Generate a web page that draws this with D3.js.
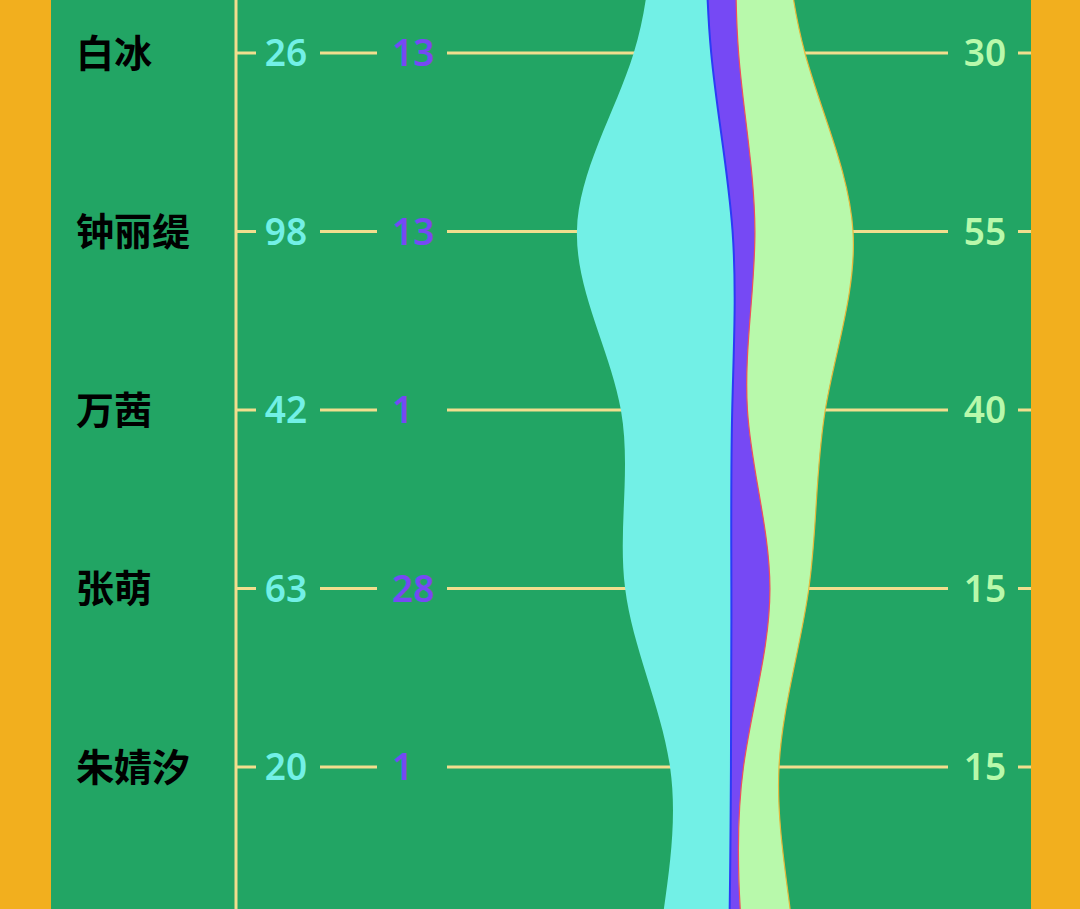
<!DOCTYPE html>
<html>
<head>
<meta charset="utf-8">
<script src="https://cdn.jsdelivr.net/npm/d3@7"></script>
<style>
  html, body { margin: 0; padding: 0; background: #F2AF1E; }
  svg { display: block; }
</style>
</head>
<body>
<svg id="chart" width="1080" height="909"></svg>
<script>
// ---- data ----
const categories = ["白冰", "钟丽缇", "万茜", "张萌", "朱婧汐"];
const seriesA = [26, 98, 42, 63, 20];   // cyan (left)
const seriesB = [13, 13, 1, 28, 1];     // purple (middle)
const seriesC = [30, 55, 40, 15, 15];   // light green (right)
// rows that continue past the top / bottom of the visible window (shape only, estimated)
const aboveA = [25, 27], aboveB = [15, 16], aboveC = [20, 21];
const belowA = [37, 40], belowB = [5, 20], belowC = [30, 17];

// ---- layout ----
const W = 1080, H = 909;
const panelX0 = 51, panelX1 = 1031;
const axisX = 236;
const firstRowY = 53, rowStep = 178.5;
const colors = { a: "#72F0E6", b: "#7649F4", c: "#B8F9AB" };
const edgeColors = { a: "#2A3CF5", b: "#F0505A", c: "#E6B83A" };
const gridColor = "#F1DE8E";
const green = "#22A564";

const svg = d3.select("#chart");
svg.append("rect").attr("x", 0).attr("y", 0).attr("width", W).attr("height", H).attr("fill", "#F2AF1E");
svg.append("rect").attr("x", panelX0).attr("y", 0).attr("width", panelX1 - panelX0).attr("height", H).attr("fill", green);

// rows: indices -2..6 (0..4 visible)
const rows = [];
aboveA.forEach((v, i) => rows.push({ idx: i - aboveA.length, a: aboveA[i], b: aboveB[i], c: aboveC[i] }));
categories.forEach((n, i) => rows.push({ idx: i, name: n, a: seriesA[i], b: seriesB[i], c: seriesC[i] }));
belowA.forEach((v, i) => rows.push({ idx: categories.length + i, a: belowA[i], b: belowB[i], c: belowC[i] }));

const idxDomain = rows.map(r => r.idx);
const y = d3.scalePoint()
  .domain(idxDomain)
  .range([firstRowY - aboveA.length * rowStep, firstRowY + (categories.length - 1 + belowA.length) * rowStep]);

const x = d3.scaleLinear().domain([0, 100]).range([656, 859]);

// axis line
svg.append("line").attr("x1", axisX).attr("x2", axisX).attr("y1", 0).attr("y2", H)
  .attr("stroke", gridColor).attr("stroke-width", 3);

// grid segments per visible row
const segs = [[axisX, 256], [320, 377], [447, 948], [1018, panelX1]];
const visible = rows.filter(r => r.idx >= 0 && r.idx < categories.length);
visible.forEach(r => {
  const yy = y(r.idx);
  segs.forEach(s => {
    svg.append("line").attr("x1", s[0]).attr("x2", s[1]).attr("y1", yy).attr("y2", yy)
      .attr("stroke", gridColor).attr("stroke-width", 3);
  });
});

// stacked streams (wiggle offset)
const stack = d3.stack().keys(["a", "b", "c"]).offset(d3.stackOffsetWiggle).order(d3.stackOrderNone);
const layers = stack(rows);

const area = d3.area()
  .curve(d3.curveBasis)
  .y((d, i) => y(rows[i].idx))
  .x0(d => x(d[0]))
  .x1(d => x(d[1]));
const edge = d3.line()
  .curve(d3.curveBasis)
  .y((d, i) => y(rows[i].idx))
  .x(d => x(d[1]));

svg.append("g").selectAll("path").data(layers).join("path")
  .attr("d", area).attr("fill", d => colors[d.key]);
svg.append("g").selectAll("path").data(layers).join("path")
  .attr("d", edge).attr("fill", "none")
  .attr("stroke", d => edgeColors[d.key])
  .attr("stroke-width", d => d.key === "a" ? 2 : 1.2);

// labels
const numFont = "'Noto Sans', 'Open Sans', sans-serif";
const lbl = svg.append("g");
visible.forEach(r => {
  const yy = y(r.idx);
  lbl.append("text").attr("x", 76).attr("y", yy - 3).attr("dominant-baseline", "central")
    .attr("font-family", "'Noto Sans CJK SC', sans-serif").attr("font-weight", 700)
    .attr("font-size", 38).attr("fill", "#000").text(r.name);
  lbl.append("text").attr("x", 286).attr("y", yy + 13).attr("text-anchor", "middle")
    .attr("font-family", numFont).attr("font-weight", 600).attr("font-size", 37)
    .attr("fill", colors.a).text(r.a);
  lbl.append("text").attr("x", 392).attr("y", yy + 13).attr("text-anchor", "start")
    .attr("font-family", numFont).attr("font-weight", 600).attr("font-size", 37)
    .attr("fill", colors.b).text(r.b);
  lbl.append("text").attr("x", 985).attr("y", yy + 13).attr("text-anchor", "middle")
    .attr("font-family", numFont).attr("font-weight", 600).attr("font-size", 37)
    .attr("fill", colors.c).text(r.c);
});
</script>
</body>
</html>
